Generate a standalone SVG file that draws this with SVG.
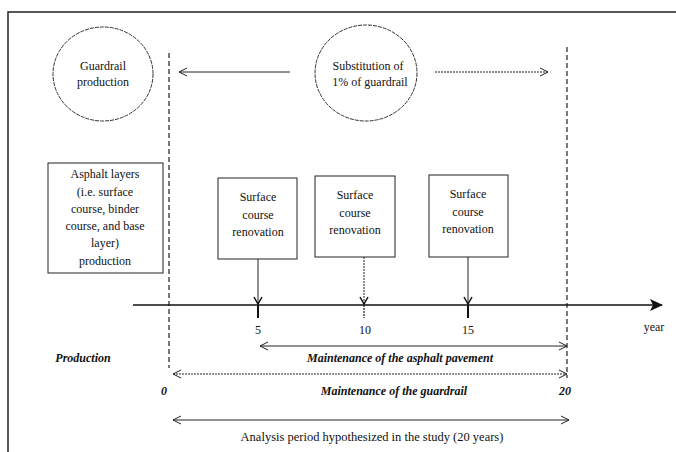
<svg xmlns="http://www.w3.org/2000/svg" width="676" height="452" viewBox="0 0 676 452" font-family="'Liberation Serif', 'DejaVu Serif', serif">
<style>
text{font-size:12px;fill:#111;}
.c{text-anchor:middle;}
.it{font-style:italic;font-weight:bold;}
.node{fill:#fff;stroke:#222;stroke-width:1;}
.circ{fill:none;stroke:#333;stroke-width:1;stroke-dasharray:4 1;}
.ln{fill:none;stroke:#222;stroke-width:1;}
.dash{fill:none;stroke:#222;stroke-width:1.2;stroke-dasharray:5 3;}
.dot{fill:none;stroke:#222;stroke-width:1;stroke-dasharray:2 1;}
</style>
<defs>
<marker id="open" markerWidth="10" markerHeight="10" refX="9" refY="5" orient="auto-start-reverse" markerUnits="userSpaceOnUse">
<path d="M1,1 L9,5 L1,9" fill="none" stroke="#222" stroke-width="1"/>
</marker>
<marker id="fill" markerWidth="14" markerHeight="12" refX="12" refY="6" orient="auto" markerUnits="userSpaceOnUse">
<path d="M0,0 L13,6 L0,12 L3,6 Z" fill="#111"/>
</marker>
<marker id="down" markerWidth="10" markerHeight="10" refX="5" refY="9" orient="0" markerUnits="userSpaceOnUse">
<path d="M1,2 L5,9 L9,2" fill="none" stroke="#111" stroke-width="1.5"/>
</marker>
</defs>
<rect width="676" height="452" fill="#fff"/>
<path d="M8,452 V12 H676" fill="none" stroke="#222" stroke-width="1.5"/>

<g id="guardrail-production">
<ellipse class="circ" cx="103" cy="74" rx="50" ry="47"/>
<text class="c" x="103" y="70">Guardrail</text>
<text class="c" x="103" y="86">production</text>
</g>
<g id="substitution">
<ellipse class="circ" cx="366" cy="73" rx="51" ry="48"/>
<text class="c" x="368" y="70">Substitution  of</text>
<text class="c" x="370" y="86">1% of guardrail</text>
</g>
<g id="asphalt-production">
<rect class="node" x="48" y="163" width="115" height="110"/>
<text class="c" x="105" y="178">Asphalt layers</text>
<text class="c" x="105" y="196">(i.e. surface</text>
<text class="c" x="105" y="213">course, binder</text>
<text class="c" x="105" y="230">course, and base</text>
<text class="c" x="105" y="247">layer)</text>
<text class="c" x="105" y="265">production</text>
</g>
<g id="renovation-5">
<rect class="node" x="218" y="178" width="79" height="81"/>
<text class="c" x="258" y="201">Surface</text>
<text class="c" x="258" y="219">course</text>
<text class="c" x="258" y="236">renovation</text>
</g>
<g id="renovation-10">
<rect class="node" x="315" y="176" width="80" height="81"/>
<text class="c" x="355" y="199">Surface</text>
<text class="c" x="355" y="217">course</text>
<text class="c" x="355" y="234">renovation</text>
</g>
<g id="renovation-15">
<rect class="node" x="429" y="175" width="79" height="82"/>
<text class="c" x="468" y="198">Surface</text>
<text class="c" x="468" y="216">course</text>
<text class="c" x="468" y="233">renovation</text>
</g>

<g id="connectors">
<line class="dash" x1="169" y1="53" x2="169" y2="368"/>
<line class="dash" x1="567" y1="47" x2="567" y2="378"/>
<line class="ln" x1="290" y1="72" x2="179" y2="72" marker-end="url(#open)"/>
<line class="dot" x1="435" y1="72" x2="548" y2="72" marker-end="url(#open)"/>
<line x1="133" y1="305" x2="662" y2="305" stroke="#111" stroke-width="1.5" marker-end="url(#fill)"/>
<line class="ln" x1="258" y1="259" x2="258" y2="304" marker-end="url(#down)"/>
<line class="dot" x1="364" y1="257" x2="364" y2="304" marker-end="url(#down)"/>
<line class="ln" x1="468" y1="257" x2="468" y2="304" marker-end="url(#down)"/>
<line x1="258" y1="305" x2="258" y2="318" stroke="#111" stroke-width="2"/>
<line x1="364" y1="305" x2="364" y2="318" stroke="#111" stroke-width="1.2" stroke-dasharray="2 1"/>
<line x1="468" y1="305" x2="468" y2="318" stroke="#111" stroke-width="2"/>
<line class="ln" x1="260" y1="346" x2="567" y2="346" marker-start="url(#open)" marker-end="url(#open)"/>
<line class="dot" x1="173" y1="374" x2="567" y2="374" marker-start="url(#open)" marker-end="url(#open)"/>
<line class="ln" x1="173" y1="420" x2="569" y2="420" marker-start="url(#open)" marker-end="url(#open)"/>
</g>

<g id="labels">
<text class="c" x="258" y="334">5</text>
<text class="c" x="365" y="334">10</text>
<text class="c" x="468" y="334">15</text>
<text class="c" x="654" y="331">year</text>
<text class="c it" x="83" y="362">Production</text>
<text class="c it" x="400" y="362">Maintenance of the asphalt pavement</text>
<text class="c it" x="164" y="395">0</text>
<text class="c it" x="394" y="395">Maintenance of the guardrail</text>
<text class="c it" x="565" y="395">20</text>
<text class="c" x="372" y="441" style="font-size:12.5px">Analysis  period hypothesized  in the study (20 years)</text>
</g>
</svg>
